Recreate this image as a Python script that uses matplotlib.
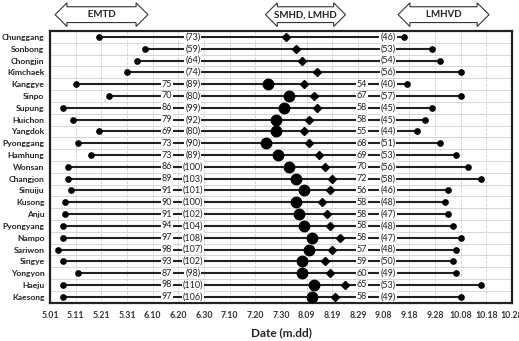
import matplotlib
matplotlib.use('Agg')
import matplotlib.pyplot as plt

plt.rcParams['font.family'] = ['Lato', 'DejaVu Sans']

stations = ['Chunggang', 'Sonbong', 'Chongjin', 'Kimchaek', 'Kanggye', 'Sinpo',
            'Supung', 'Huichon', 'Yangdok', 'Pyonggang', 'Hamhung', 'Wonsan',
            'Changjon', 'Sinuiju', 'Kusong', 'Anju', 'Pyongyang', 'Nampo',
            'Sariwon', 'Singye', 'Yongyon', 'Haeju', 'Kaesong']

# EMTD, days after May 1
emtd = [19, 37, 34, 30, 10, 23, 5, 9, 19, 11, 16, 7,
        7, 8, 6, 6, 5, 5, 3, 5, 11, 5, 5]
# days EMTD -> SMHD (None = no SMHD)
emtd_smhd = [None, None, None, None, 75, 70, 86, 79, 69, 73, 73, 86,
             89, 91, 90, 91, 94, 97, 98, 93, 87, 98, 97]
# days EMTD -> LMHD
emtd_lmhd = [73, 59, 64, 74, 89, 80, 99, 92, 80, 90, 89, 100,
             103, 101, 100, 102, 104, 108, 107, 102, 98, 110, 106]
# days SMHD -> LMHVD
smhd_lmhvd = [None, None, None, None, 54, 67, 58, 58, 55, 68, 69, 70,
              72, 56, 58, 58, 58, 58, 57, 59, 60, 65, 58]
# days LMHD -> LMHVD
lmhd_lmhvd = [46, 53, 54, 56, 40, 57, 45, 45, 44, 51, 53, 56,
              58, 46, 48, 47, 48, 47, 48, 50, 49, 53, 49]

tick_labels = ['5.01', '5.11', '5.21', '5.31', '6.10', '6.20', '6.30', '7.10',
               '7.20', '7.30', '8.09', '8.19', '8.29', '9.08', '9.18', '9.28',
               '10.08', '10.18', '10.28']

fig = plt.figure(figsize=(5.19, 3.41), dpi=100)
ax = fig.add_axes([0.0963, 0.1123, 0.8902, 0.7967])

lc = '#222222'
wb = dict(boxstyle='square,pad=0.1', fc='white', ec='none')
for i, name in enumerate(stations):
    s = emtd[i]
    lm = s + emtd_lmhd[i]
    e = lm + lmhd_lmhvd[i]
    ax.plot([s, e], [i, i], color=lc, lw=1.5, zorder=2)
    ax.plot(s, i, 'o', color='black', ms=3.8, zorder=4)
    ax.plot(e, i, 'o', color='black', ms=3.8, zorder=4)
    ax.plot(lm, i, 'D', color='black', ms=4.2, zorder=4)
    if emtd_smhd[i] is not None:
        sm = s + emtd_smhd[i]
        ax.plot(sm, i, 'o', color='black', ms=7.5, zorder=4)
        ax.text(47.6, i, str(emtd_smhd[i]), ha='right', va='center',
                fontsize=6.5, color='#222222', bbox=wb, zorder=3)
        ax.text(123.6, i, str(smhd_lmhvd[i]), ha='right', va='center',
                fontsize=6.5, color='#222222', bbox=wb, zorder=3)
    ax.text(55.7, i, '(%d)' % emtd_lmhd[i], ha='center', va='center',
            fontsize=6.5, color='#222222', bbox=wb, zorder=3)
    ax.text(131.7, i, '(%d)' % lmhd_lmhvd[i], ha='center', va='center',
            fontsize=6.5, color='#222222', bbox=wb, zorder=3)

# row separators
for k in range(len(stations) - 1):
    ax.axhline(k + 0.5, color='#d0d0d0', lw=0.6, zorder=1)

ax.set_xlim(0, 180)
ax.set_ylim(len(stations) - 0.5, -0.5)
ax.set_xticks(range(0, 181, 10))
ax.set_xticklabels(tick_labels, fontsize=6.3, fontweight='bold', color='#333333')
ax.set_yticks(range(len(stations)))
ax.set_yticklabels(stations, fontsize=6.1, fontweight='bold', color='#222222')
ax.tick_params(axis='y', length=0, pad=4)
ax.tick_params(axis='x', length=0, pad=6)
ax.xaxis.grid(True, color='#d0d0d0', ls='--', lw=0.6)
ax.set_axisbelow(True)
for sp in ax.spines.values():
    sp.set_linewidth(1.6)
    sp.set_color('#222222')
ax.set_xlabel('Date (m.dd)', fontsize=8.5, fontweight='bold', color='#222222',
              labelpad=5)

# period labels above the plot
arrow = dict(boxstyle='darrow,pad=0.35', fc='white', ec='#333333', lw=0.8)
for label, x0 in [('          EMTD          ', 0.196),
                  ('SMHD, LMHD', 0.589),
                  ('        LMHVD        ', 0.855)]:
    fig.text(x0, 0.957, label, ha='center', va='center', fontsize=7,
             fontweight='bold', color='#222222', bbox=arrow)

fig.savefig('out.png', dpi=100)
